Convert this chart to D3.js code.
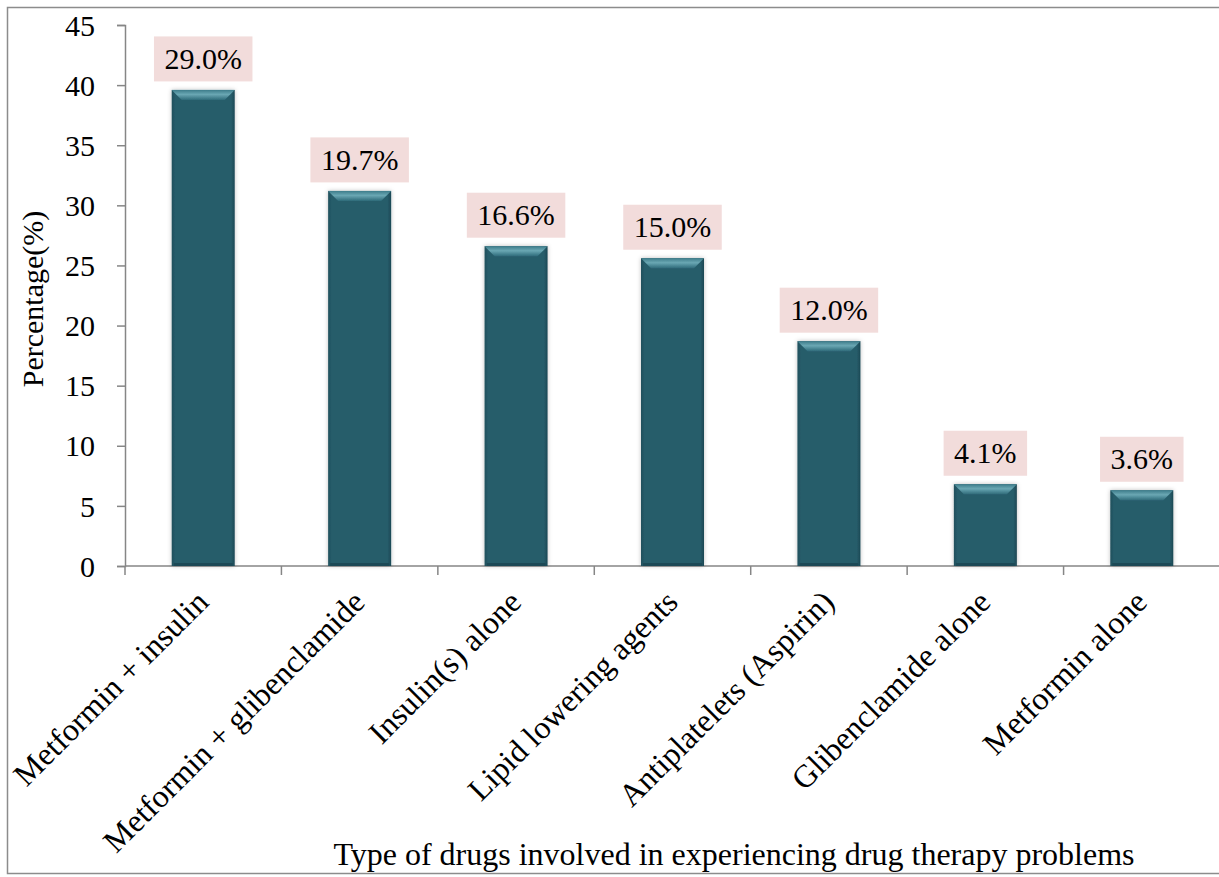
<!DOCTYPE html>
<html>
<head>
<meta charset="utf-8">
<script src="https://cdn.jsdelivr.net/npm/d3@7"></script>
<style>
  body { margin: 0; background: #fff; }
  svg { display: block; font-family: "Liberation Serif", "Times New Roman", serif; }
</style>
</head>
<body>
<div id="chart"></div>
<script>
const categories = ['Metformin + insulin', 'Metformin + glibenclamide', 'Insulin(s) alone',
    'Lipid lowering agents', 'Antiplatelets (Aspirin)', 'Glibenclamide alone', 'Metformin alone'];
const values = [39.6, 31.2, 26.6, 25.6, 18.7, 6.8, 6.3];
const labels = ['29.0%', '19.7%', '16.6%', '15.0%', '12.0%', '4.1%', '3.6%'];
const yTicks = [0, 5, 10, 15, 20, 25, 30, 35, 40, 45];

const W = 1219, H = 877;
const margin = {top: 25, left: 125};
const width = 1095;
const height = 541;

const svg = d3.select('#chart')
    .append('svg')
        .attr('width', W)
        .attr('height', H);

// outer frame (right side runs off the picture)
svg.append('rect')
    .attr('x', 7.5).attr('y', 7.5)
    .attr('width', W + 20).attr('height', 866)
    .attr('fill', 'none')
    .attr('stroke', '#8c8c8c')
    .attr('stroke-width', 1.5);

const defs = svg.append('defs');
const bevel = defs.append('linearGradient')
    .attr('id', 'bevel').attr('x1', 0).attr('y1', 0).attr('x2', 0).attr('y2', 1);
bevel.append('stop').attr('offset', '0%').attr('stop-color', '#3d7c8a');
bevel.append('stop').attr('offset', '45%').attr('stop-color', '#6aa7b3');
bevel.append('stop').attr('offset', '100%').attr('stop-color', '#2f6b7a');
const sideShade = defs.append('linearGradient')
    .attr('id', 'sides').attr('x1', 0).attr('y1', 0).attr('x2', 1).attr('y2', 0);
sideShade.append('stop').attr('offset', '0%').attr('stop-color', '#1f4f5c');
sideShade.append('stop').attr('offset', '6%').attr('stop-color', '#275d6b');
sideShade.append('stop').attr('offset', '94%').attr('stop-color', '#275d6b');
sideShade.append('stop').attr('offset', '100%').attr('stop-color', '#1c4854');
const shadow = defs.append('filter').attr('id', 'shadow')
    .attr('x', '-20%').attr('y', '-5%').attr('width', '140%').attr('height', '110%');
shadow.append('feDropShadow').attr('dx', 0).attr('dy', 0).attr('stdDeviation', 2)
    .attr('flood-color', '#000').attr('flood-opacity', 0.25);

const g = svg.append('g')
    .attr('transform', `translate(${margin.left},${margin.top})`);

// scales
const x = d3.scaleBand()
    .domain(categories)
    .range([0, width]);
const bw = 63;
const y = d3.scaleLinear().domain([0, 45]).range([height, 0]);
const cx = (d) => x(d) + x.bandwidth() / 2;

// y axis
const yAxis = g.append('g')
    .call(d3.axisLeft(y).tickValues(yTicks).tickSize(8).tickPadding(22));
yAxis.select('.domain').attr('stroke', '#868686').attr('stroke-width', 1.5);
yAxis.selectAll('.tick line').attr('stroke', '#868686').attr('stroke-width', 1.5);
yAxis.selectAll('.tick text')
    .attr('font-size', 30)
    .attr('font-family', '"Liberation Serif", serif')
    .attr('fill', '#000')
    .attr('dy', '0.34em');

// x axis baseline + tick marks at category boundaries
g.append('line')
    .attr('x1', 0).attr('x2', width)
    .attr('y1', height).attr('y2', height)
    .attr('stroke', '#868686').attr('stroke-width', 1.5);
g.selectAll('.xtick')
    .data(categories)
    .join('line')
        .attr('class', 'xtick')
        .attr('x1', (d) => x(d)).attr('x2', (d) => x(d))
        .attr('y1', height).attr('y2', height + 9)
        .attr('stroke', '#868686').attr('stroke-width', 1.5);

// bars
const bars = g.selectAll('.bar')
    .data(values)
    .join('g')
        .attr('class', 'bar')
        .attr('filter', 'url(#shadow)');
bars.append('rect')
    .attr('x', (d, i) => cx(categories[i]) - bw / 2)
    .attr('y', (d) => y(d))
    .attr('width', bw)
    .attr('height', (d) => height - y(d))
    .attr('fill', 'url(#sides)');
// top bevel
bars.append('path')
    .attr('d', (d, i) => {
        const x0 = cx(categories[i]) - bw / 2, x1 = x0 + bw, t = y(d);
        return `M${x0},${t}L${x1},${t}L${x1 - 10},${t + 10}L${x0 + 10},${t + 10}Z`;
    })
    .attr('fill', 'url(#bevel)');
// bottom rim
bars.append('rect')
    .attr('x', (d, i) => cx(categories[i]) - bw / 2 + 2)
    .attr('y', height - 3)
    .attr('width', bw - 4)
    .attr('height', 3)
    .attr('fill', '#1e4a56');

// value labels in pink boxes
const lab = g.selectAll('.lab')
    .data(values)
    .join('g')
        .attr('class', 'lab')
        .attr('transform', (d, i) => `translate(${cx(categories[i])},${y(d) - 31})`);
lab.append('text')
    .attr('text-anchor', 'middle')
    .attr('dy', '0.34em')
    .attr('font-size', 30)
    .attr('fill', '#000')
    .text((d, i) => labels[i]);
lab.each(function () {
    const t = d3.select(this).select('text');
    const bb = t.node().getBBox();
    d3.select(this).insert('rect', 'text')
        .attr('x', bb.x - 10.5)
        .attr('y', -22.5)
        .attr('width', bb.width + 21)
        .attr('height', 45)
        .attr('fill', '#f2dcdb');
});

// category labels, rotated
g.selectAll('.cat')
    .data(categories)
    .join('text')
        .attr('class', 'cat')
        .attr('text-anchor', 'end')
        .attr('font-size', 32)
        .attr('fill', '#000')
        .attr('transform', (d) => `translate(${cx(d) + 7},${height + 38}) rotate(-45)`)
        .text((d) => d);

// axis titles
svg.append('text')
    .attr('transform', `translate(43,${margin.top + 274}) rotate(-90)`)
    .attr('text-anchor', 'middle')
    .attr('font-size', 30)
    .text('Percentage(%)');
svg.append('text')
    .attr('x', 734)
    .attr('y', 865)
    .attr('text-anchor', 'middle')
    .attr('font-size', 32)
    .text('Type of drugs involved in experiencing drug therapy problems');
</script>
</body>
</html>
